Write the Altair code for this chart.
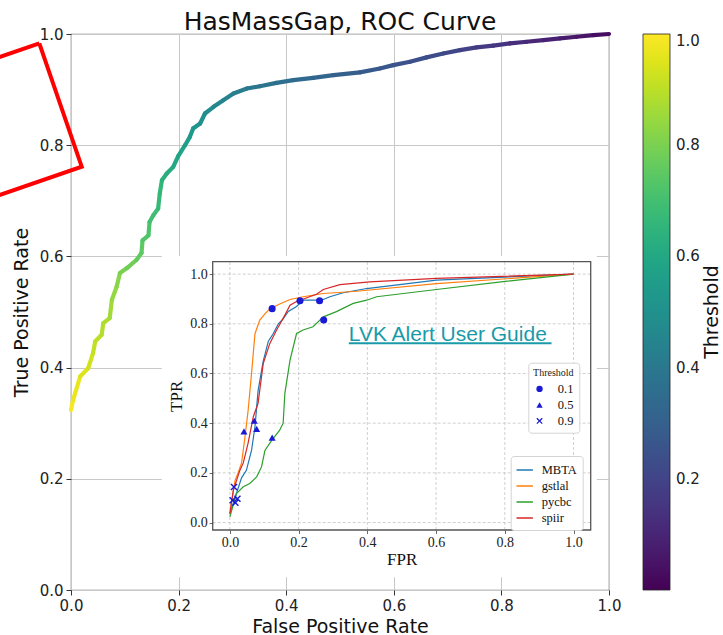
import altair as alt
import pandas as pd

# ---------------- main ROC curve (HasMassGap) ----------------
FPR = [0.000, 0.004, 0.017, 0.032, 0.041, 0.045, 0.057, 0.060, 0.072, 0.076,
       0.085, 0.091, 0.104, 0.122, 0.131, 0.133, 0.144, 0.146, 0.153, 0.162,
       0.165, 0.169, 0.178, 0.190, 0.199, 0.212, 0.221, 0.227, 0.240, 0.249,
       0.265, 0.283, 0.302, 0.327, 0.351, 0.382, 0.413, 0.450, 0.488, 0.537,
       0.574, 0.599, 0.630, 0.661, 0.692, 0.723, 0.754, 0.785, 0.816, 0.847,
       0.878, 0.909, 0.940, 0.971, 1.000]
TPR = [0.324, 0.342, 0.384, 0.399, 0.426, 0.447, 0.459, 0.480, 0.489, 0.522,
       0.546, 0.570, 0.579, 0.594, 0.606, 0.629, 0.638, 0.662, 0.674, 0.686,
       0.713, 0.737, 0.749, 0.761, 0.780, 0.800, 0.815, 0.830, 0.839, 0.857,
       0.869, 0.881, 0.893, 0.902, 0.906, 0.912, 0.917, 0.921, 0.926, 0.931,
       0.938, 0.944, 0.950, 0.958, 0.965, 0.971, 0.976, 0.979, 0.983, 0.986,
       0.989, 0.992, 0.995, 0.998, 1.000]
THRESHOLD = [0.99, 0.97, 0.95, 0.93, 0.91, 0.90, 0.89, 0.88, 0.86, 0.84,
             0.82, 0.80, 0.78, 0.76, 0.75, 0.73, 0.72, 0.70, 0.69, 0.67,
             0.66, 0.64, 0.62, 0.60, 0.58, 0.56, 0.54, 0.52, 0.50, 0.48,
             0.46, 0.44, 0.42, 0.40, 0.38, 0.36, 0.34, 0.32, 0.30, 0.28,
             0.27, 0.25, 0.24, 0.23, 0.21, 0.19, 0.17, 0.15, 0.13, 0.11,
             0.09, 0.07, 0.05, 0.03, 0.01]
MAIN_TICKS = [0.0, 0.2, 0.4, 0.6, 0.8, 1.0]
CBAR_TICKS = [0.2, 0.4, 0.6, 0.8, 1.0]
CBAR_TITLE = "Threshold"
CBAR_TITLE_POS = (1.191, 0.5)   # in main-axis units, right of the colour bar

# red stamp outline (corners, in main-axis units)
BOX_X = [-0.0589, 0.0199, -0.2095, -0.2883, -0.0589]
BOX_Y = [0.9833, 0.7613, 0.6851, 0.9070, 0.9833]

# ---------------- inset: per-pipeline ROC curves ----------------
SERIES = ["MBTA", "gstlal", "pycbc", "spiir"]
SERIES_COLORS = ["#1f77b4", "#ff7f0e", "#2ca02c", "#d62728"]

MBTA_FPR = [0, .015, .034, .048, .063, .073, .082, .097, .112, .126, .141, .155,
            .170, .194, .213, .252, .272, .291, .33, .398, .601, 1.0]
MBTA_TPR = [.036, .10, .18, .21, .29, .385, .53, .65, .73, .76, .80, .82,
            .85, .87, .895, .895, .898, .909, .925, .942, .976, 1.0]
GSTLAL_FPR = [0, .015, .024, .034, .044, .053, .063, .073, .087, .102, .116, .145,
              .175, .213, .272, .369, .601, 1.0]
GSTLAL_TPR = [.036, .17, .20, .24, .345, .45, .60, .76, .815, .84, .86, .88,
              .898, .909, .922, .931, .962, 1.0]
PYCBC_FPR = [0, .019, .039, .058, .078, .092, .102, .121, .145, .155, .16, .175,
             .194, .213, .242, .272, .31, .359, .398, .427, .601, .795, 1.0]
PYCBC_TPR = [.023, .117, .144, .157, .184, .224, .29, .33, .372, .40, .52, .654,
             .761, .775, .788, .828, .849, .882, .895, .909, .938, .97, 1.0]
SPIIR_FPR = [0, .01, .029, .039, .053, .068, .082, .097, .116, .136, .16, .175,
             .194, .252, .272, .32, .407, .601, 1.0]
SPIIR_TPR = [.036, .13, .21, .24, .32, .425, .48, .64, .72, .775, .835, .875,
             .89, .919, .938, .958, .969, .983, 1.0]

MARK_FPR = [.123, .204, .261, .273, .041, .071, .078, .123, .012, .008, .016, .022]
MARK_TPR = [.861, .893, .893, .815, .367, .41, .377, .342, .143, .09, .08, .096]
MARK_THR = ["0.1"] * 4 + ["0.5"] * 4 + ["0.9"] * 4
MARK_LEVELS = ["0.1", "0.5", "0.9"]
# "x" marker drawn as a thin filled polygon so that it shows with a fill only
XPATH = ("M-1,-0.72L-0.72,-1L0,-0.28L0.72,-1L1,-0.72L0.28,0L1,0.72L0.72,1"
         "L0,0.28L-0.72,1L-1,0.72L-0.28,0Z")

INSET_TICKS = [0.0, 0.2, 0.4, 0.6, 0.8, 1.0]
INSET_X_DOMAIN = [-0.05, 1.05]
INSET_Y_DOMAIN = [-0.03, 1.05]
INSET_BG_X = [-0.198, 1.068]
INSET_BG_Y = [-0.220, 1.0725]

LINK_TEXT = "LVK Alert User Guide"
LINK_X, LINK_Y = 0.346, 0.731
LINK_UNDERLINE = [0.346, 0.936, 0.722]

BLUE = "#1a1ad6"
TEAL = "#1a9aa8"

# ---------------- scales ----------------
W, H = 538, 556
mx = alt.Scale(domain=[0, 1], nice=False, zero=False)
my = alt.Scale(domain=[0, 1], nice=False, zero=False)
ix = alt.Scale(domain=INSET_X_DOMAIN, range=[141.7, 519.7], nice=False, zero=False)
iy = alt.Scale(domain=INSET_Y_DOMAIN, range=[496, 227.7], nice=False, zero=False)

# ---------------- main layers ----------------
seg = pd.DataFrame({"fpr": FPR, "tpr": TPR, "thr": THRESHOLD})
seg["fpr2"] = seg["fpr"].shift(-1)
seg["tpr2"] = seg["tpr"].shift(-1)
seg = seg.dropna()

main_axis_common = dict(
    values=MAIN_TICKS, format=".1f",
    titleFont="DejaVu Sans", titleFontSize=19, titleFontWeight="normal", titleColor="#111",
    labelFont="DejaVu Sans", labelFontSize=15, labelColor="#222",
    tickColor="#333", tickSize=5, tickWidth=1, labelPadding=3,
    grid=True, gridColor="#c8c8c8", gridWidth=1, domain=False,
    labelFlush=False, zindex=0,
)

curve = alt.Chart(seg).mark_rule(strokeWidth=4.2, strokeCap="round").encode(
    x=alt.X("fpr:Q", scale=mx,
            axis=alt.Axis(title="False Positive Rate", orient="bottom", titlePadding=4,
                          **main_axis_common)),
    x2="fpr2:Q",
    y=alt.Y("tpr:Q", scale=my,
            axis=alt.Axis(title="True Positive Rate", orient="left", titlePadding=8,
                          **main_axis_common)),
    y2="tpr2:Q",
    color=alt.Color(
        "thr:Q",
        scale=alt.Scale(scheme="viridis", domain=[0, 1]),
        legend=alt.Legend(
            orient="none", legendX=572, legendY=0, direction="vertical",
            gradientLength=556, gradientThickness=27,
            values=CBAR_TICKS, format=".1f",
            labelFont="DejaVu Sans", labelFontSize=15, labelColor="#222", labelOffset=6,
            labelOverlap=False, title=None,
            gradientStrokeColor="#222", gradientStrokeWidth=0.8, padding=0,
        ),
    ),
)

box_df = pd.DataFrame({"bx": BOX_X, "by": BOX_Y, "i": list(range(len(BOX_X)))})
box = alt.Chart(box_df).mark_line(color="#ff0000", strokeWidth=4, strokeJoin="miter").encode(
    x=alt.X("bx:Q", scale=mx, axis=None),
    y=alt.Y("by:Q", scale=my, axis=None),
    order="i:Q",
)

cbt_df = pd.DataFrame({"x": [CBAR_TITLE_POS[0]], "y": [CBAR_TITLE_POS[1]], "t": [CBAR_TITLE]})
cbar_title = alt.Chart(cbt_df).mark_text(
    angle=270, align="center", baseline="middle", font="DejaVu Sans", fontSize=19, color="#111"
).encode(
    x=alt.X("x:Q", scale=mx, axis=None),
    y=alt.Y("y:Q", scale=my, axis=None),
    text="t:N",
)

# ---------------- inset layers ----------------
rows = []
for name, xs, ys in [("MBTA", MBTA_FPR, MBTA_TPR), ("gstlal", GSTLAL_FPR, GSTLAL_TPR),
                     ("pycbc", PYCBC_FPR, PYCBC_TPR), ("spiir", SPIIR_FPR, SPIIR_TPR)]:
    for k, (a, b) in enumerate(zip(xs, ys)):
        rows.append({"series": name, "fpr": a, "tpr": b, "k": k})
lines_df = pd.DataFrame(rows)

inset_axis_common = dict(
    values=INSET_TICKS, format=".1f", grid=False, domain=False,
    labelFont="Liberation Serif", labelFontSize=14, labelColor="#222",
    titleFont="Liberation Serif", titleFontSize=17, titleFontWeight="normal", titleColor="#111",
    tickColor="#444", tickSize=3.5, tickWidth=0.8, labelPadding=2, labelFlush=False, zindex=1,
)

bg_df = pd.DataFrame({"x": [INSET_BG_X[0]], "x2": [INSET_BG_X[1]],
                      "y": [INSET_BG_Y[0]], "y2": [INSET_BG_Y[1]]})
bg = alt.Chart(bg_df).mark_rect(color="white").encode(
    x=alt.X("x:Q", scale=ix, axis=None), x2="x2:Q",
    y=alt.Y("y:Q", scale=iy, axis=None), y2="y2:Q",
)

gx_df = pd.DataFrame({"v": INSET_TICKS, "lo": INSET_Y_DOMAIN[0], "hi": INSET_Y_DOMAIN[1]})
gy_df = pd.DataFrame({"v": INSET_TICKS, "lo": INSET_X_DOMAIN[0], "hi": INSET_X_DOMAIN[1]})
grid_style = dict(color="#c4c4c4", strokeDash=[3, 2], strokeWidth=0.8)
gx = alt.Chart(gx_df).mark_rule(**grid_style).encode(
    x=alt.X("v:Q", scale=ix, axis=None),
    y=alt.Y("lo:Q", scale=iy, axis=None), y2="hi:Q",
)
gy = alt.Chart(gy_df).mark_rule(**grid_style).encode(
    y=alt.Y("v:Q", scale=iy, axis=None),
    x=alt.X("lo:Q", scale=ix, axis=None), x2="hi:Q",
)

lines = alt.Chart(lines_df).mark_line(strokeWidth=1.2).encode(
    x=alt.X("fpr:Q", scale=ix,
            axis=alt.Axis(title="FPR", orient="bottom", offset=-60, titlePadding=2,
                          **inset_axis_common)),
    y=alt.Y("tpr:Q", scale=iy,
            axis=alt.Axis(title="TPR", orient="left", offset=-141.7, titlePadding=4,
                          **inset_axis_common)),
    color=alt.Color(
        "series:N",
        scale=alt.Scale(domain=SERIES, range=SERIES_COLORS),
        legend=alt.Legend(
            orient="none", legendX=439.7, legendY=422, title=None,
            labelFont="Liberation Serif", labelFontSize=12.5, labelColor="#111",
            symbolType="stroke", symbolSize=270, symbolStrokeWidth=1.5,
            rowPadding=0, padding=5, labelOffset=8,
            strokeColor="#d4d4d4", fillColor="white", cornerRadius=3,
        ),
    ),
    order="k:Q",
)

marks_df = pd.DataFrame({"fpr": MARK_FPR, "tpr": MARK_TPR, "thr": MARK_THR})
markers = alt.Chart(marks_df).mark_point(
    filled=True, color=BLUE, size=50, opacity=1
).encode(
    x=alt.X("fpr:Q", scale=ix, axis=None),
    y=alt.Y("tpr:Q", scale=iy, axis=None),
    shape=alt.Shape(
        "thr:N",
        scale=alt.Scale(domain=MARK_LEVELS, range=["circle", "triangle-up", XPATH]),
        legend=alt.Legend(
            orient="none", legendX=457.3, legendY=328.7, title="Threshold",
            titleFont="Liberation Serif", titleFontSize=10, titleFontWeight="normal",
            titleColor="#222", titleAnchor="middle",
            labelFont="Liberation Serif", labelFontSize=12.5, labelColor="#111",
            symbolSize=40, symbolFillColor=BLUE,
            rowPadding=3, padding=5, labelOffset=12,
            strokeColor="#d4d4d4", fillColor="white", cornerRadius=3,
        ),
    ),
)

frame_df = pd.DataFrame({"x": [INSET_X_DOMAIN[0]], "x2": [INSET_X_DOMAIN[1]],
                         "y": [INSET_Y_DOMAIN[0]], "y2": [INSET_Y_DOMAIN[1]]})
frame = alt.Chart(frame_df).mark_rect(filled=False, color="#555555", strokeWidth=1.3).encode(
    x=alt.X("x:Q", scale=ix, axis=None), x2="x2:Q",
    y=alt.Y("y:Q", scale=iy, axis=None), y2="y2:Q",
)

link_df = pd.DataFrame({"x": [LINK_X], "y": [LINK_Y], "t": [LINK_TEXT]})
link = alt.Chart(link_df).mark_text(
    align="left", baseline="alphabetic", font="Liberation Sans", fontSize=21, color=TEAL
).encode(
    x=alt.X("x:Q", scale=ix, axis=None),
    y=alt.Y("y:Q", scale=iy, axis=None),
    text="t:N",
)
ul_df = pd.DataFrame({"x": [LINK_UNDERLINE[0]], "x2": [LINK_UNDERLINE[1]], "y": [LINK_UNDERLINE[2]]})
underline = alt.Chart(ul_df).mark_rule(color=TEAL, strokeWidth=2).encode(
    x=alt.X("x:Q", scale=ix, axis=None), x2="x2:Q",
    y=alt.Y("y:Q", scale=iy, axis=None),
)

chart = alt.layer(
    curve, box, cbar_title, bg, gx, gy, lines, markers, frame, link, underline
).resolve_scale(
    x="independent", y="independent", color="independent", shape="independent"
).properties(
    width=W, height=H,
    title=alt.TitleParams("HasMassGap, ROC Curve", font="DejaVu Sans", fontSize=25,
                          fontWeight="normal", color="#111", anchor="middle",
                          baseline="alphabetic", offset=-28),
    autosize=alt.AutoSizeParams(type="none"),
    padding={"left": 71, "top": 34, "right": 114, "bottom": 45},
).configure_view(stroke="#777777", strokeWidth=1.2)

chart.save("out.html", embed_options={"renderer": "svg", "actions": False})
